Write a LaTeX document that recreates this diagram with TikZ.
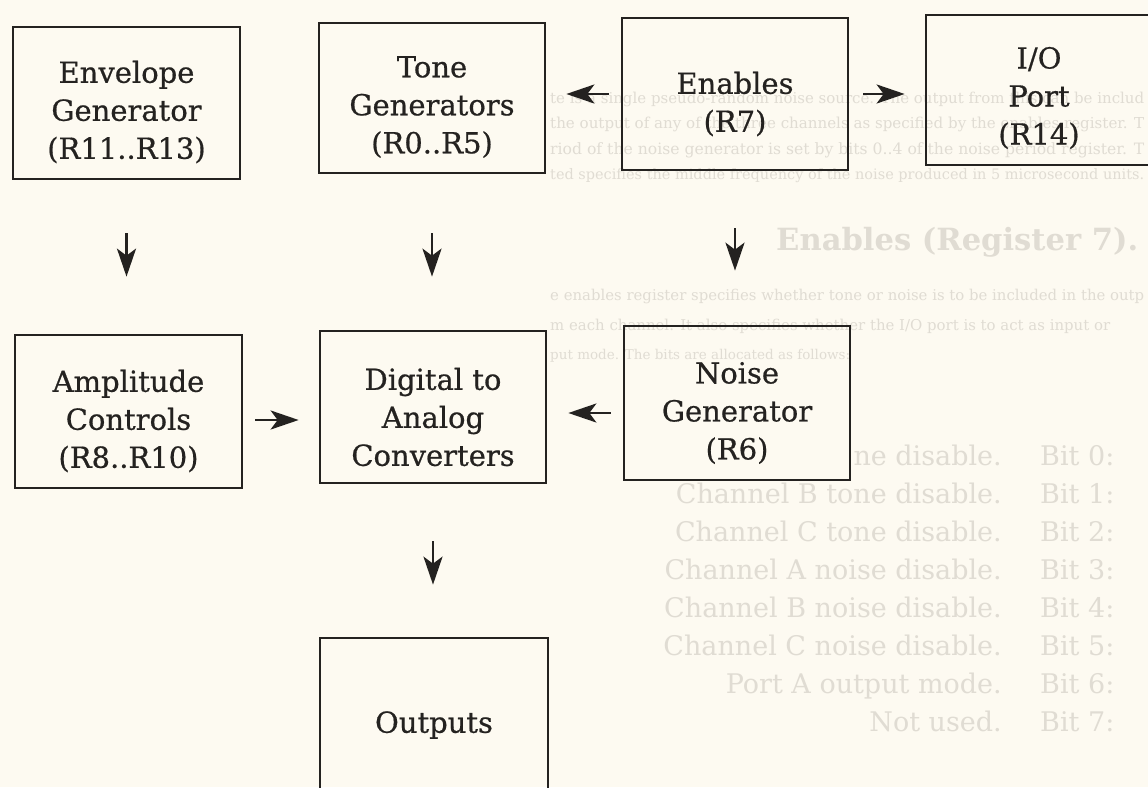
\documentclass[tikz,border=0pt]{standalone}
\usepackage{fontspec}
\setmainfont{DejaVu Serif}
\newfontfamily\lblfont{DejaVu Serif}[FakeBold=0.6]
\usepackage{graphicx}
\usetikzlibrary{arrows.meta}
\definecolor{paper}{RGB}{253,250,241}
\definecolor{ink}{RGB}{36,34,32}
\definecolor{ghost}{RGB}{224,220,211}
\tikzset{
  blk/.style={draw=ink, line width=2.7pt, inner sep=0pt},
  lbl/.style={text=ink, align=center, font=\lblfont\fontsize{29}{38}\selectfont, inner sep=0pt},
  arr/.style={draw=ink, line width=2.6pt, -{Stealth[length=28pt,width=19pt,inset=7pt]}},
  ghl/.style={text=ghost, inner sep=0pt, anchor=base west, font=\fontsize{19}{24}\selectfont},
  ghbit/.style={text=ghost, inner sep=0pt, font=\fontsize{27}{38}\selectfont},
}
\begin{document}
\begin{tikzpicture}[x=1pt,y=-1pt]
\useasboundingbox (0,0) rectangle (1148,787);
\fill[paper] (0,0) rectangle (1148,787);
\clip (0,0) rectangle (1148,787);

% faint show-through text of the page
\node[ghl] (g1) at (550,103) {\resizebox{594pt}{!}{te is a single pseudo-random noise source. The output from this can be includ}};
\node[ghl] (g2) at (550,128) {\resizebox{594pt}{!}{the output of any of the three channels as specified by the enables register. T}};
\node[ghl] (g3) at (550,154) {\resizebox{594pt}{!}{riod of the noise generator is set by bits 0..4 of the noise period register. T}};
\node[ghl] (g4) at (550,179) {\resizebox{594pt}{!}{ted specifies the middle frequency of the noise produced in 5 microsecond units.}};
\node[ghl] (gh) at (776,250) {\resizebox{362pt}{!}{\bfseries Enables (Register 7).}};
\node[ghl] (g5) at (550,300) {\resizebox{594pt}{!}{e enables register specifies whether tone or noise is to be included in the outp}};
\node[ghl] (g6) at (550,330) {\resizebox{560pt}{!}{m each channel. It also specifies whether the I/O port is to act as input or}};
\node[ghl] (g7) at (550,359) {\resizebox{300pt}{!}{put mode. The bits are allocated as follows:}};
\node[ghbit, anchor=base east] (gd0) at (1002,465) {ne disable.};
\node[ghbit, anchor=base west] (gb0) at (1040,465) {Bit 0:};
\foreach \k/\d in {1/Channel B tone disable.,2/Channel C tone disable.,3/Channel A noise disable.,4/Channel B noise disable.,5/Channel C noise disable.,6/Port A output mode.,7/Not used.}{
  \node[ghbit, anchor=base east] (gd\k) at (1002,{465+38*\k}) {\d};
  \node[ghbit, anchor=base west] (gb\k) at (1040,{465+38*\k}) {Bit \k:};
}

% boxes
\node[blk, minimum width=227pt, minimum height=152pt] (env) at (126.5,103) {};
\node[blk, minimum width=226pt, minimum height=150pt] (tone) at (432,98) {};
\node[blk, minimum width=226pt, minimum height=152pt] (ena) at (735,94) {};
\node[blk, minimum width=225pt, minimum height=150pt] (io) at (1038.5,90) {};
\node[blk, minimum width=227pt, minimum height=153pt] (amp) at (128.5,411.5) {};
\node[blk, minimum width=226pt, minimum height=152pt] (dac) at (433,407) {};
\node[blk, minimum width=226pt, minimum height=154pt] (noise) at (737,403) {};
\node[blk, minimum width=228pt, minimum height=152pt] (out) at (434,714) {};

% labels
\node[lbl] (envt) at (126.5,112) {Envelope\\Generator\\(R11..R13)};
\node[lbl] (tonet) at (432,107) {Tone\\Generators\\(R0..R5)};
\node[lbl] (enat) at (735,104) {Enables\\(R7)};
\node[lbl] (iot) at (1039,98) {I/O\\Port\\(R14)};
\node[lbl] (ampt) at (128.5,421) {Amplitude\\Controls\\(R8..R10)};
\node[lbl] (dact) at (433,417) {Digital to\\Analog\\Converters};
\node[lbl] (noiset) at (737,413) {Noise\\Generator\\(R6)};
\node[lbl] (outt) at (434,725) {Outputs};

% connectors
\draw[arr, shorten <=12pt, shorten >=20pt] (ena.west) -- (ena.west -| tone.east);
\draw[arr, shorten <=14pt, shorten >=20pt] (ena.east) -- (ena.east -| io.west);
\draw[arr, shorten <=53pt, shorten >=57pt] (env.south) -- (env.south |- amp.north);
\draw[arr, shorten <=59pt, shorten >=53pt] (tone.south) -- (tone.south |- dac.north);
\draw[arr, shorten <=57pt, shorten >=54pt] (ena.south) -- (ena.south |- noise.north);
\draw[arr, shorten <=12pt, shorten >=20pt] ([yshift=-8.5pt]amp.east) -- ([yshift=-8.5pt]amp.east -| dac.west);
\draw[arr, shorten <=12pt, shorten >=21pt] ([yshift=-10pt]noise.west) -- ([yshift=-10pt]noise.west -| dac.east);
\draw[arr, shorten <=57pt, shorten >=52pt] (dac.south) -- (dac.south |- out.north);
\end{tikzpicture}
\end{document}
